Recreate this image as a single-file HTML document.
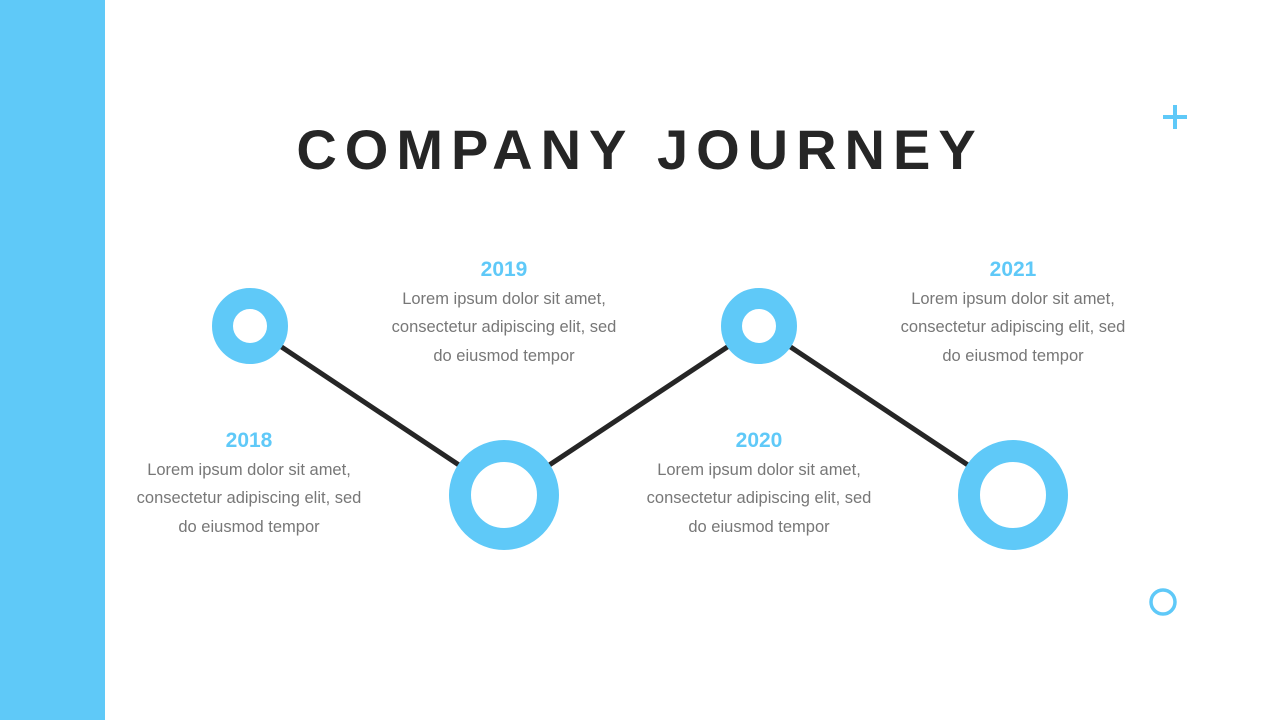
<!DOCTYPE html>
<html><head><meta charset="utf-8"><style>
html,body{margin:0;padding:0;background:#fff;width:1280px;height:720px;overflow:hidden}
</style></head><body>
<svg width="1280" height="720" viewBox="0 0 1280 720" xmlns="http://www.w3.org/2000/svg">
<rect x="0" y="0" width="105" height="720" fill="#5fc9f8"/>
<text x="640" y="169" text-anchor="middle" font-family="Liberation Sans, sans-serif" font-weight="bold" font-size="56" letter-spacing="8" fill="#262626">COMPANY JOURNEY</text>
<g stroke="#5fc9f8" stroke-width="4" fill="none">
<line x1="1163" y1="117" x2="1187" y2="117"/><line x1="1175" y1="105" x2="1175" y2="129"/>
</g>
<circle cx="1163" cy="602" r="12" stroke="#5fc9f8" stroke-width="3.5" fill="none"/>
<polyline points="250,326 504,495 759,326 1013,495" fill="none" stroke="#262626" stroke-width="5"/>
<g fill="#fff" stroke="#5fc9f8">
<circle cx="250" cy="326" r="27.5" stroke-width="21"/>
<circle cx="759" cy="326" r="27.5" stroke-width="21"/>
<circle cx="504" cy="495" r="44" stroke-width="22"/>
<circle cx="1013" cy="495" r="44" stroke-width="22"/>
</g>
<g font-family="Liberation Sans, sans-serif" text-anchor="middle">
<g font-weight="bold" font-size="21" fill="#5fc9f8">
<text x="249" y="447">2018</text><text x="504" y="276">2019</text>
<text x="759" y="447">2020</text><text x="1013" y="276">2021</text>
</g>
<g font-size="16.5" fill="#777">
<text x="249" y="475">Lorem ipsum dolor sit amet,</text><text x="249" y="503">consectetur adipiscing elit, sed</text><text x="249" y="532">do eiusmod tempor</text>
<text x="504" y="304">Lorem ipsum dolor sit amet,</text><text x="504" y="332">consectetur adipiscing elit, sed</text><text x="504" y="361">do eiusmod tempor</text>
<text x="759" y="475">Lorem ipsum dolor sit amet,</text><text x="759" y="503">consectetur adipiscing elit, sed</text><text x="759" y="532">do eiusmod tempor</text>
<text x="1013" y="304">Lorem ipsum dolor sit amet,</text><text x="1013" y="332">consectetur adipiscing elit, sed</text><text x="1013" y="361">do eiusmod tempor</text>
</g>
</g>
</svg>
</body></html>
